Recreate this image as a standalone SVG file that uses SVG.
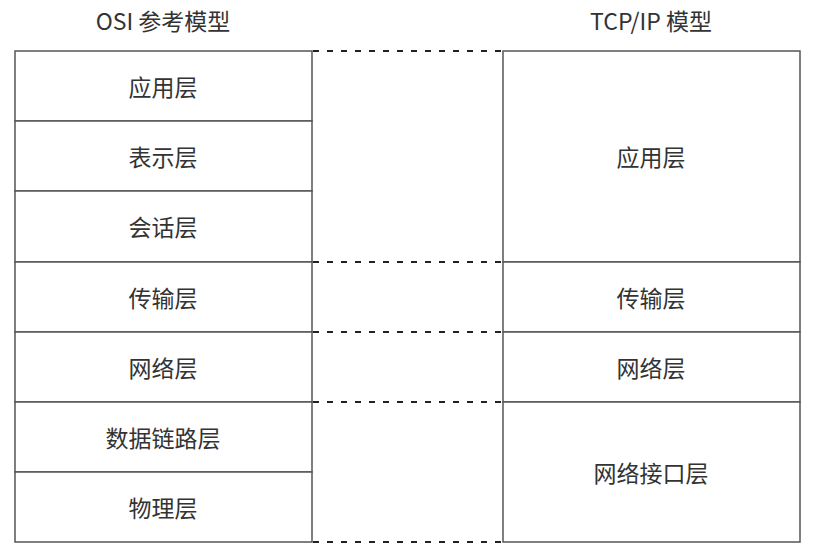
<svg xmlns="http://www.w3.org/2000/svg" width="820" height="550" viewBox="0 0 820 550">
<style>
.box{fill:#fff;stroke:#555;stroke-width:1.5}
.t{font-family:"Noto Sans CJK SC","Noto Sans",sans-serif;font-size:23px;fill:#333;text-anchor:middle;dominant-baseline:central}
.d{stroke:#222;stroke-width:2;stroke-dasharray:6 8}
</style>
<rect width="820" height="550" fill="#fff"/>
<text class="t" x="163" y="20">OSI 参考模型</text>
<text class="t" x="651" y="20">TCP/IP 模型</text>
<g id="osi-app"><rect class="box" x="15" y="51" width="297" height="70"/><text class="t" x="163" y="86">应用层</text></g>
<g id="osi-pres"><rect class="box" x="15" y="121" width="297" height="70"/><text class="t" x="163" y="156">表示层</text></g>
<g id="osi-sess"><rect class="box" x="15" y="191" width="297" height="71"/><text class="t" x="163" y="226">会话层</text></g>
<g id="osi-trans"><rect class="box" x="15" y="262" width="297" height="70"/><text class="t" x="163" y="297">传输层</text></g>
<g id="osi-net"><rect class="box" x="15" y="332" width="297" height="70"/><text class="t" x="163" y="367">网络层</text></g>
<g id="osi-link"><rect class="box" x="15" y="402" width="297" height="70"/><text class="t" x="163" y="437">数据链路层</text></g>
<g id="osi-phys"><rect class="box" x="15" y="472" width="297" height="70"/><text class="t" x="163" y="507">物理层</text></g>
<g id="tcp-app"><rect class="box" x="503" y="51" width="297" height="211"/><text class="t" x="651" y="156">应用层</text></g>
<g id="tcp-trans"><rect class="box" x="503" y="262" width="297" height="70"/><text class="t" x="651" y="297">传输层</text></g>
<g id="tcp-net"><rect class="box" x="503" y="332" width="297" height="70"/><text class="t" x="651" y="367">网络层</text></g>
<g id="tcp-if"><rect class="box" x="503" y="402" width="297" height="140"/><text class="t" x="651" y="472">网络接口层</text></g>
<g id="connectors">
<line class="d" x1="313" y1="51" x2="502" y2="51"/>
<line class="d" x1="313" y1="262" x2="502" y2="262"/>
<line class="d" x1="313" y1="332" x2="502" y2="332"/>
<line class="d" x1="313" y1="402" x2="502" y2="402"/>
<line class="d" x1="313" y1="542" x2="502" y2="542"/>
</g>
</svg>
